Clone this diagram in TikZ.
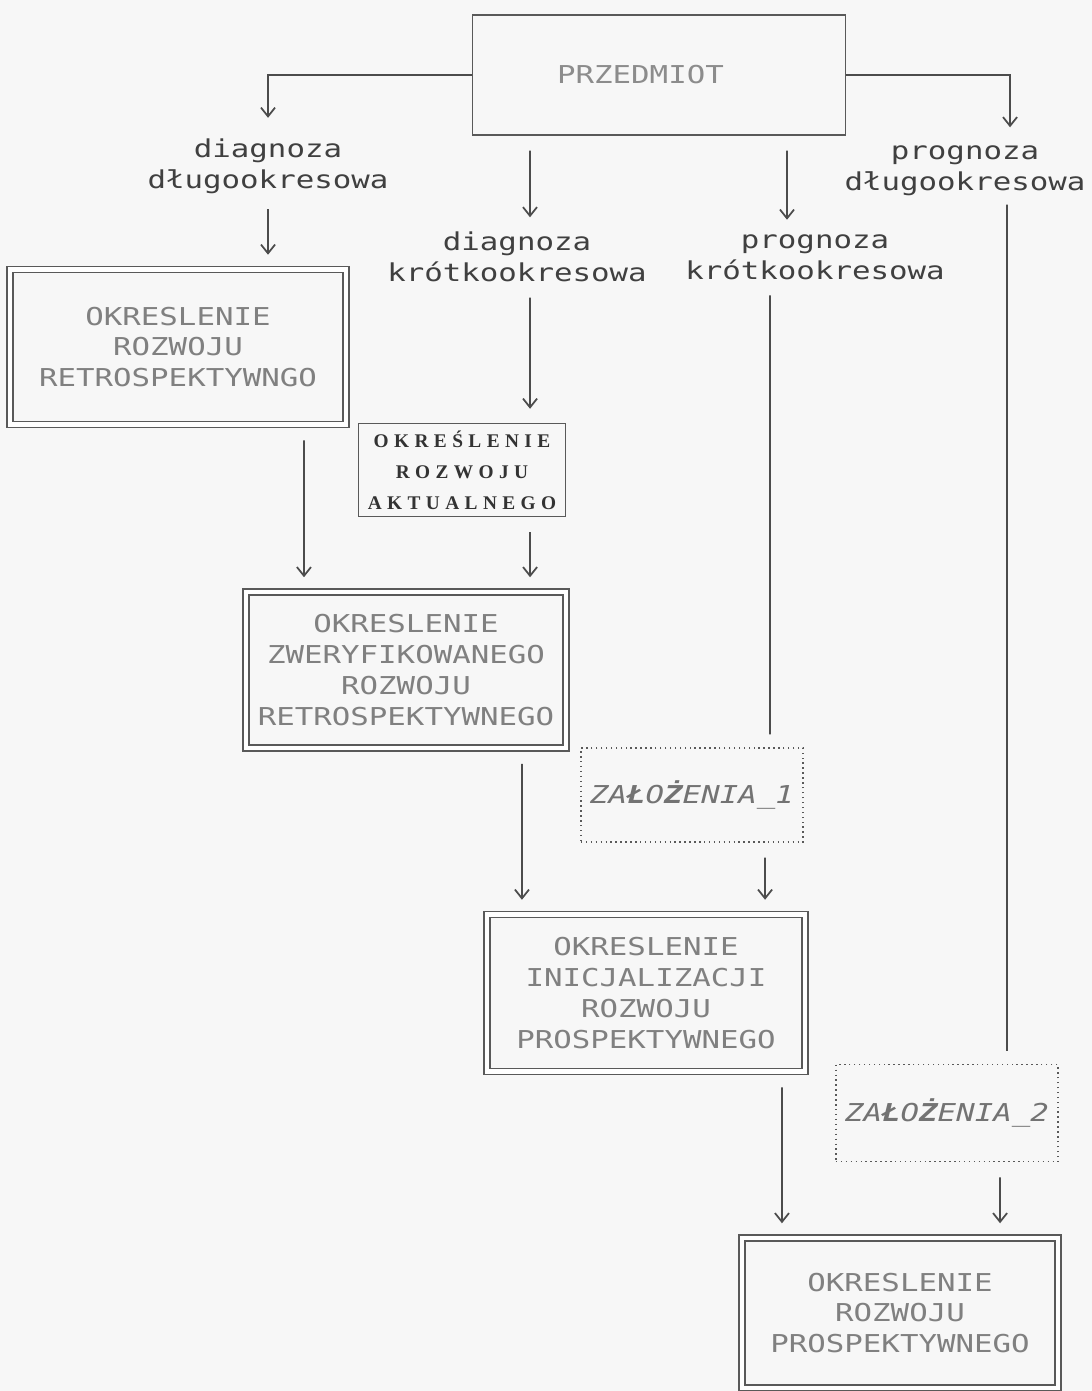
\documentclass[tikz,border=0pt]{standalone}
\usepackage{fontspec}
\setmonofont[FakeStretch=1.25]{DejaVu Sans Mono}
\newfontfamily\aktfont[LetterSpace=28]{Liberation Serif}
\usetikzlibrary{arrows.meta}

\begin{document}
\begin{tikzpicture}[x=0.01cm,y=-0.01cm,
  font=\ttfamily\fontsize{7}{8.8}\selectfont,
  >={Straight Barb[length=2.5pt,width=4pt]},
  arr/.style={->,black!70,line width=0.5pt,shorten <=0.15cm,shorten >=0.14cm},
  lin/.style={black!70,line width=0.5pt,shorten <=0.15cm,shorten >=0.13cm},
  lbl/.style={align=center,text=black!75,inner sep=0pt},
  sbox/.style={draw=black!65,align=center,inner sep=0pt},
  dbox/.style={draw=black!65,double,double distance=1.3pt,align=center,text=black!50,inner sep=0pt},
  zbox/.style={draw=black!65,densely dotted,align=center,text=black!55,inner sep=0pt,
    font=\ttfamily\itshape\fontsize{7}{8.8}\selectfont}]
\fill[black!3] (0,0) rectangle (1092,1391);
\useasboundingbox (0,0) rectangle (1092,1391);

\node[sbox,text=black!45,minimum width=3.73cm,minimum height=1.2cm] (przed) at (659,75) {PRZEDMIOT\hphantom{XX}};
\node[lbl] (dd) at (268,166) {diagnoza\\długookresowa};
\node[lbl] (pd) at (965,171) {prognoza\\długookresowa};
\node[lbl] (dk) at (517,257) {diagnoza\\krótkookresowa};
\node[lbl] (pk) at (815,257) {prognoza\\krótkookresowa};
\node[dbox,minimum width=3.36cm,minimum height=1.55cm] (retro) at (178,347) {OKRESLENIE\\ROZWOJU\\RETROSPEKTYWNGO};
\node[sbox,text=black!80,font=\aktfont\bfseries\fontsize{5.5}{8.8}\selectfont,
  minimum width=2.07cm,minimum height=0.93cm] (aktual) at (462,470) {OKREŚLENIE\\ROZWOJU\\AKTUALNEGO};
\node[dbox,minimum width=3.2cm,minimum height=1.56cm] (zwer) at (406,670) {OKRESLENIE\\ZWERYFIKOWANEGO\\ROZWOJU\\RETROSPEKTYWNEGO};
\node[zbox,minimum width=2.22cm,minimum height=0.94cm] (zal1) at (692,795) {ZA{\bfseries Ł}O{\bfseries Ż}ENIA\_1};
\node[dbox,minimum width=3.18cm,minimum height=1.57cm] (inic) at (646,993) {OKRESLENIE\\INICJALIZACJI\\ROZWOJU\\PROSPEKTYWNEGO};
\node[zbox,minimum width=2.22cm,minimum height=0.97cm] (zal2) at (947,1113) {ZA{\bfseries Ł}O{\bfseries Ż}ENIA\_2};
\node[dbox,minimum width=3.16cm,minimum height=1.5cm] (prosp) at (900,1313) {OKRESLENIE\\ROZWOJU\\PROSPEKTYWNEGO};

\draw[arr,shorten <=0pt,shorten >=0.2cm] (przed.west) -| (dd.north);
\draw[arr,shorten <=0pt,shorten >=0.18cm] (przed.east) -| ([xshift=0.45cm]pd.north);
\draw[arr] (dd.south) -- ([xshift=0.90cm]retro.north);
\draw[arr] ([xshift=-1.29cm]przed.south) -- ([xshift=0.13cm]dk.north);
\draw[arr] ([xshift=1.28cm]przed.south) -- ([xshift=-0.28cm]pk.north);
\draw[arr] ([xshift=0.13cm]dk.south) -- ([xshift=0.68cm]aktual.north);
\draw[arr] ([xshift=1.26cm]retro.south) -- ([xshift=-1.02cm]zwer.north);
\draw[arr] ([xshift=0.68cm]aktual.south) -- ([xshift=1.24cm]zwer.north);
\draw[lin] ([xshift=-0.45cm]pk.south) -- ([xshift=0.78cm]zal1.north);
\draw[arr] ([xshift=0.73cm]zal1.south) -- ([xshift=1.19cm]inic.north);
\draw[arr] ([xshift=1.16cm]zwer.south) -- ([xshift=-1.24cm]inic.north);
\draw[lin,shorten <=0.08cm] ([xshift=0.42cm]pd.south) -- ([xshift=0.60cm]zal2.north);
\draw[arr] ([xshift=0.53cm]zal2.south) -- ([xshift=1.00cm]prosp.north);
\draw[arr] ([xshift=1.36cm]inic.south) -- ([xshift=-1.18cm]prosp.north);
\end{tikzpicture}
\end{document}
